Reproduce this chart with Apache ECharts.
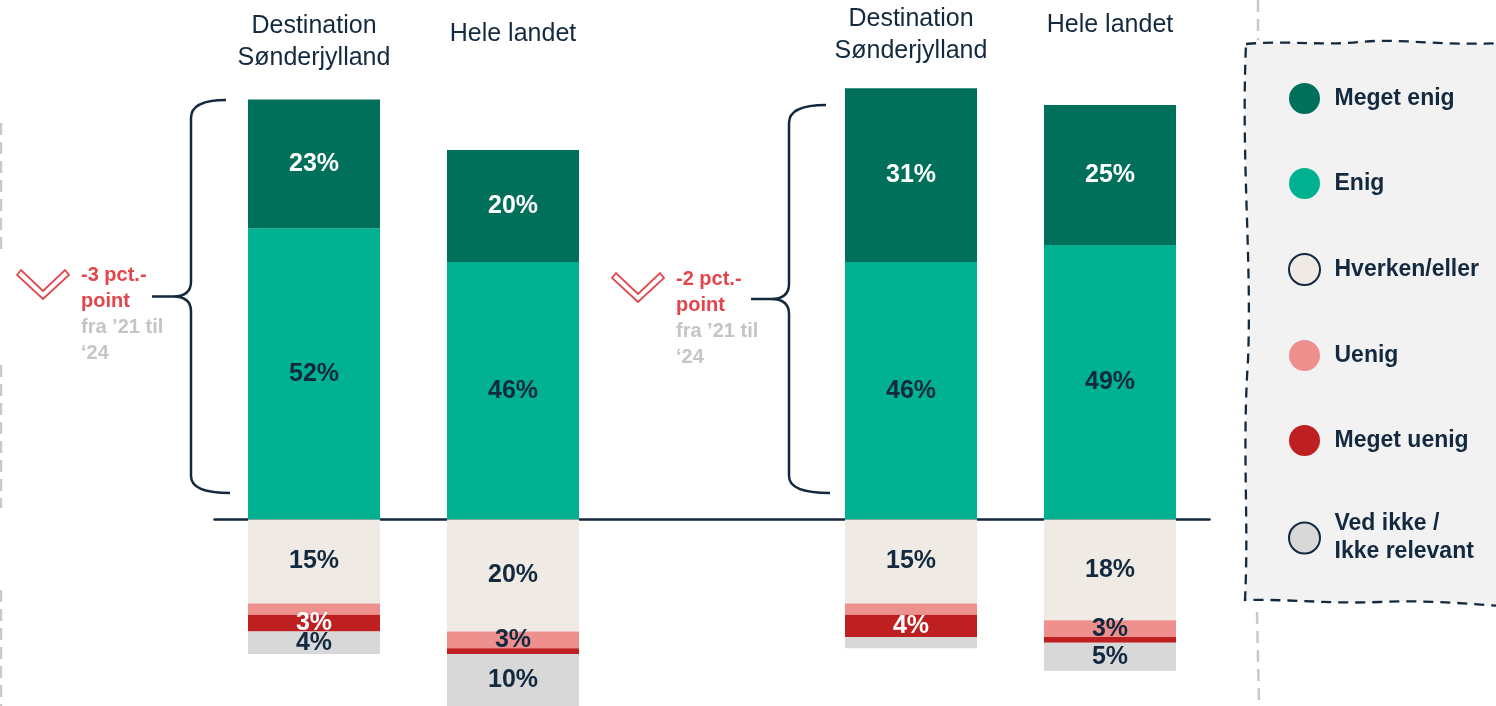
<!DOCTYPE html>
<html><head><meta charset="utf-8">
<script src="https://cdn.jsdelivr.net/npm/echarts@6/dist/echarts.min.js"></script>
<style>html,body{margin:0;padding:0;background:#fff}#c{width:1496px;height:706px}</style>
</head><body><div id="c"></div>
<script>
// ---- data ----
const categories = ['Destination Sønderjylland A', 'Hele landet A', 'gap', 'Destination Sønderjylland B', 'Hele landet B'];
const titleLines = [['Destination', 'Sønderjylland'], ['Hele landet'], [], ['Destination', 'Sønderjylland'], ['Hele landet']];
const seriesNames = ['Meget enig', 'Enig', 'Hverken/eller', 'Uenig', 'Meget uenig', 'Ved ikke /\nIkke relevant'];
const megetEnig  = [23, 20, null, 31, 25];
const enig       = [52, 46, null, 46, 49];
const hverken    = [15, 20, null, 15, 18];
const uenig      = [2, 3, null, 2, 3];
const megetUenig = [3, 1, null, 4, 1];
const vedIkke    = [4, 10, null, 2, 5];
const changeTexts = [['-3 pct.-', 'point'], ['-2 pct.-', 'point']];
const periodTexts = [['fra ’21 til', '‘24'], ['fra ’21 til', '‘24']];

// ---- styles ----
const NAVY = '#13293f';
const FONT = '"Liberation Sans", Arial, Helvetica, sans-serif';
const colors = ['#00705a', '#00b191', '#efebe4', '#ed908e', '#be1f21', '#d8d8d8'];
const labelColors = ['#ffffff', NAVY, NAVY, NAVY, '#ffffff', NAVY];

const chart = echarts.init(document.getElementById('c'), null, {renderer: 'canvas'});

function mkSeries(idx, values, sign) {
  return {
    name: seriesNames[idx],
    type: 'bar',
    stack: 'all',
    barWidth: 132,
    data: values.map(v => v == null ? null : sign * v),
    itemStyle: {color: colors[idx]},
    label: {
      show: true,
      position: 'inside',
      color: labelColors[idx],
      fontFamily: FONT,
      fontWeight: 'bold',
      fontSize: 25,
      formatter: p => (p.value != null && Math.abs(p.value) >= 3) ? Math.abs(p.value) + '%' : ''
    },
    emphasis: {disabled: true}
  };
}

const series = [
  mkSeries(1, enig, 1),
  mkSeries(0, megetEnig, 1),
  mkSeries(2, hverken, -1),
  mkSeries(3, uenig, -1),
  mkSeries(4, megetUenig, -1),
  mkSeries(5, vedIkke, -1)
];

const option = {
  animation: false,
  backgroundColor: '#ffffff',
  grid: {left: 214.5, right: 286.5, top: 71.5, bottom: 0, containLabel: false},
  xAxis: {
    type: 'category',
    data: categories,
    axisLine: {show: true, onZero: true, lineStyle: {color: NAVY, width: 2.5}},
    axisTick: {show: false},
    axisLabel: {show: false},
    splitLine: {show: false}
  },
  yAxis: {
    type: 'value', min: -33.3, max: 80,
    show: false, splitLine: {show: false}
  },
  legend: {
    orient: 'vertical',
    left: 1283,
    top: 78,
    icon: 'circle',
    itemWidth: 50,
    itemHeight: 31,
    itemGap: 54,
    selectedMode: false,
    textStyle: {fontFamily: FONT, fontSize: 23, fontWeight: 'bold', color: NAVY, lineHeight: 28},
    data: [
      {name: seriesNames[0]},
      {name: seriesNames[1]},
      {name: seriesNames[2], itemStyle: {borderColor: NAVY, borderWidth: 2}},
      {name: seriesNames[3]},
      {name: seriesNames[4]},
      {name: seriesNames[5], itemStyle: {borderColor: NAVY, borderWidth: 2}}
    ]
  },
  series: series
};
chart.setOption(option);

// ---- decorations ----
const G = echarts.graphic;
function regPath(name, d) { G.registerShape(name, G.extendPath(d, {})); }

regPath('legendBox', 'M1246,44 C1290,40 1320,46 1360,42 C1400,38 1440,46 1500,43 L1500,606 C1460,603 1420,600 1380,602 C1330,604 1290,599 1245,600 C1249,520 1242,450 1248,360 C1252,260 1241,160 1246,44 Z');

function brace(x, xEnd, top, bottom, tipX) {
  const mid = (top + bottom) / 2;
  return 'M' + (xEnd - 4) + ',' + top + ' Q' + x + ',' + top + ' ' + x + ',' + (top + 18) +
    ' L' + x + ',' + (mid - 15) + ' Q' + x + ',' + mid + ' ' + (x - 18) + ',' + mid +
    ' L' + tipX + ',' + mid + ' M' + (x - 18) + ',' + mid + ' Q' + x + ',' + mid + ' ' + x + ',' + (mid + 15) +
    ' L' + x + ',' + (bottom - 17) + ' Q' + x + ',' + bottom + ' ' + xEnd + ',' + bottom;
}
regPath('braceLeft', brace(191, 230, 100, 493, 152));
regPath('braceRight', brace(789, 830, 105, 493, 751));

const g = [];
g.push({type: 'legendBox', z: 0, style: {fill: '#f2f2f2', stroke: NAVY, lineWidth: 2.3, lineDash: [10, 7]}});
const guideStyle = {stroke: '#c5c9ce', lineWidth: 2.5, lineDash: [12, 7]};
g.push({type: 'line', shape: {x1: 1, y1: 123, x2: 1, y2: 250}, style: guideStyle});
g.push({type: 'line', shape: {x1: 1, y1: 365, x2: 1, y2: 508}, style: guideStyle});
g.push({type: 'line', shape: {x1: 1, y1: 590, x2: 1, y2: 706}, style: guideStyle});
g.push({type: 'line', shape: {x1: 1258, y1: 0, x2: 1258, y2: 40}, style: guideStyle});
g.push({type: 'line', shape: {x1: 1257, y1: 612, x2: 1259, y2: 706}, style: guideStyle});

const braceStyle = {fill: null, stroke: NAVY, lineWidth: 2.5};
g.push({type: 'braceLeft', style: braceStyle});
g.push({type: 'braceRight', style: braceStyle});

function chevron(dx, dy) {
  const pts = [[17, 275], [21, 270], [43, 291], [65, 270], [69, 275], [43, 299]];
  return {type: 'polygon', shape: {points: pts.map(p => [p[0] + dx, p[1] + dy])},
    style: {fill: '#ffffff', stroke: '#e2454b', lineWidth: 1.8}};
}
g.push(chevron(0, 0));
g.push(chevron(595, 3));
const annos = [{x: 81, y: 275}, {x: 676, y: 279}];
annos.forEach((a, i) => {
  g.push({type: 'text', style: {text: changeTexts[i].join('\n'), x: a.x, y: a.y - 13,
    fill: '#e2454b', font: 'bold 20px ' + FONT, lineHeight: 26,
    align: 'left', verticalAlign: 'top'}});
  g.push({type: 'text', style: {text: periodTexts[i].join('\n'), x: a.x, y: a.y + 52 - 13,
    fill: '#c5c5c5', font: 'bold 20px ' + FONT, lineHeight: 26,
    align: 'left', verticalAlign: 'top'}});
});

const titleTop = [26, 34, 0, 19, 25];
categories.forEach((c, i) => {
  if (!titleLines[i].length) return;
  const x = chart.convertToPixel({xAxisIndex: 0}, c);
  g.push({type: 'text', style: {text: titleLines[i].join('\n'), x: x, y: titleTop[i] - 16,
    fill: NAVY, font: '25px ' + FONT, lineHeight: 32,
    align: 'center', verticalAlign: 'top'}});
});

chart.setOption({graphic: {elements: g}});
</script>
</body></html>
